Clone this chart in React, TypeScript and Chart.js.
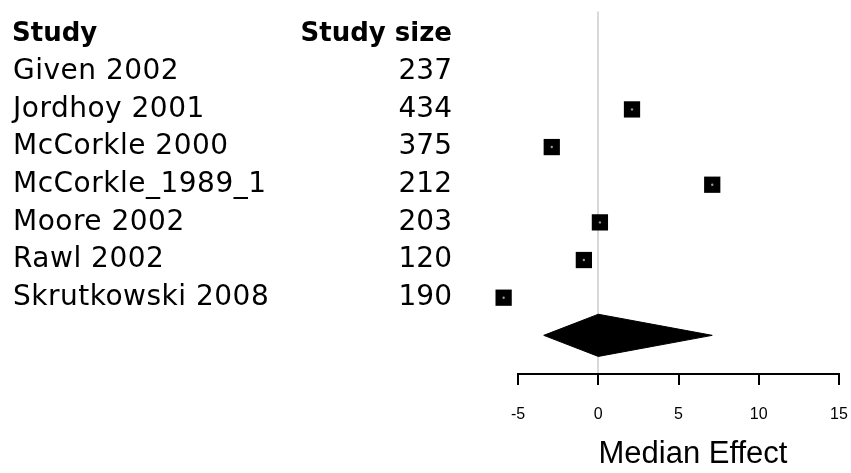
import React, { useEffect, useRef } from "react";
import { Chart, registerables } from "chart.js";

Chart.register(...registerables);

const studyNames = [
  "Given 2002",
  "Jordhoy 2001",
  "McCorkle 2000",
  "McCorkle_1989_1",
  "Moore 2002",
  "Rawl 2002",
  "Skrutkowski 2008",
];
const studySizes = [237, 434, 375, 212, 203, 120, 190];
const studyEffects: (number | null)[] = [null, 2.1, -2.9, 7.1, 0.1, -0.9, -5.9];
const summaryLower = -3.4;
const summaryEstimate = 0;
const summaryUpper = 7.1;
const xTicks = [-5, 0, 5, 10, 15];
const headerStudy = "Study";
const headerSize = "Study size";
const axisTitle = "Median Effect";

export default function App() {
  const ref = useRef<HTMLCanvasElement | null>(null);

  useEffect(() => {
    if (!ref.current) return;
    const summaryRow = studyNames.length;
    const half = 0.56;

    const points = studyEffects
      .map((v, i) => (v === null ? null : { x: v, y: i }))
      .filter((p) => p !== null) as { x: number; y: number }[];

    const diamond = [
      { x: summaryLower, y: summaryRow },
      { x: summaryEstimate, y: summaryRow - half },
      { x: summaryUpper, y: summaryRow },
      { x: summaryEstimate, y: summaryRow + half },
      { x: summaryLower, y: summaryRow },
    ];

    const textPlugin = {
      id: "forestText",
      afterDraw(chart: any) {
        const ctx = chart.ctx;
        const ys = chart.scales.y;
        const xs = chart.scales.x;
        ctx.save();
        ctx.fillStyle = "#000";
        ctx.textBaseline = "middle";
        // headers
        ctx.font = 'bold 26px "DejaVu Sans"';
        const hy = ys.getPixelForValue(-1);
        ctx.textAlign = "left";
        ctx.fillText(headerStudy, 12, hy);
        ctx.textAlign = "right";
        ctx.fillText(headerSize, 452, hy);
        // rows
        ctx.font = '28px "DejaVu Sans"';
        studyNames.forEach((n, i) => {
          const y = ys.getPixelForValue(i);
          ctx.textAlign = "left";
          (ctx as any).letterSpacing = "0.5px";
          ctx.fillText(n, 13, y);
          ctx.textAlign = "right";
          (ctx as any).letterSpacing = "0px";
          ctx.fillText(String(studySizes[i]), 452, y);
        });
        (ctx as any).letterSpacing = "0px";
        // axis line
        ctx.strokeStyle = "#000";
        ctx.lineWidth = 2;
        ctx.beginPath();
        const ay = xs.top + 1;
        ctx.moveTo(xs.getPixelForValue(xTicks[0]) - 1, ay);
        ctx.lineTo(xs.getPixelForValue(xTicks[xTicks.length - 1]) + 1, ay);
        ctx.stroke();
        // axis title
        ctx.font = '31px "Liberation Sans"';
        ctx.textAlign = "center";
        ctx.fillText(axisTitle, xs.getPixelForValue(5.9), 454);
        ctx.restore();
      },
    };

    const chart = new Chart(ref.current, {
      type: "scatter",
      data: {
        datasets: [
          {
            data: points,
            pointStyle: "circle",
            pointRadius: 1.2,
            pointHoverRadius: 1.2,
            backgroundColor: "#9a9a9a",
            borderWidth: 0,
            clip: false,
          } as any,
          {
            data: points,
            pointStyle: "rect",
            pointRadius: 11.5,
            pointHoverRadius: 11.5,
            backgroundColor: "#000",
            borderColor: "#000",
            borderWidth: 0,
            clip: false,
          } as any,
          {
            type: "line",
            data: diamond,
            borderColor: "#000",
            backgroundColor: "#000",
            borderWidth: 1,
            pointRadius: 0,
            tension: 0,
            fill: "shape",
          } as any,
        ],
      },
      options: {
        animation: false,
        responsive: true,
        maintainAspectRatio: false,
        layout: { padding: { left: 494, right: 12, top: 6, bottom: 0 } },
        plugins: {
          legend: { display: false },
          tooltip: { enabled: false },
        },
        events: [],
        scales: {
          x: {
            type: "linear",
            min: -6.5,
            max: 15,
            afterBuildTicks: (s: any) => {
              s.ticks = xTicks.map((v) => ({ value: v }));
            },
            afterFit: (s: any) => {
              s.height = 100;
              s.paddingLeft = 0;
              s.paddingRight = 0;
            },
            border: { display: false },
            grid: {
              color: (c: any) =>
                c.tick && c.tick.value === 0 ? "#d9d9d9" : "rgba(0,0,0,0)",
              lineWidth: 2,
              drawTicks: true,
              tickLength: 12,
              tickColor: "#000",
              tickWidth: 2,
            },
            ticks: {
              color: "#000",
              padding: 20,
              font: () => ({ family: "Liberation Sans", size: 16, weight: "normal" }),
              maxRotation: 0,
              autoSkip: false,
            },
          },
          y: {
            type: "linear",
            display: false,
            reverse: true,
            min: -1.6,
            max: 8,
          },
        },
      } as any,
      plugins: [textPlugin],
    });
    return () => chart.destroy();
  }, []);

  return (
    <div
      style={{
        position: "fixed",
        left: 0,
        top: 0,
        width: 851,
        height: 473,
        background: "#fff",
      }}
    >
      <canvas ref={ref} />
    </div>
  );
}
